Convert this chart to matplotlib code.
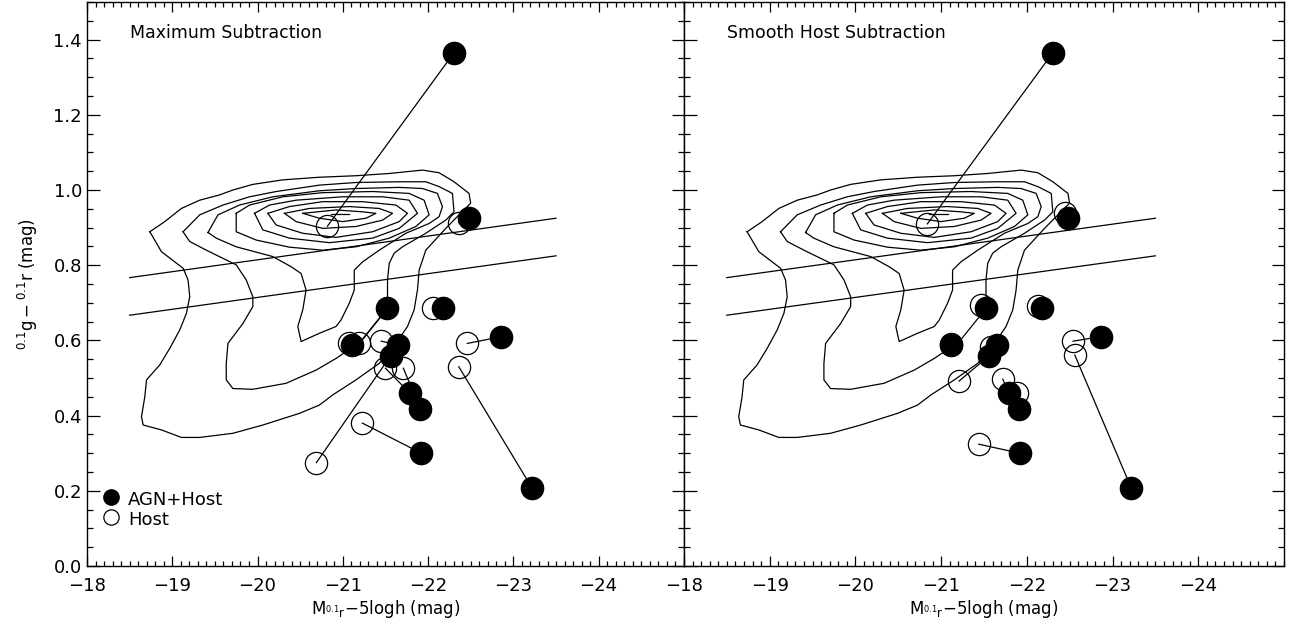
import matplotlib
matplotlib.use('Agg')
import matplotlib.pyplot as plt
from matplotlib.ticker import MultipleLocator

# AGN+Host colours / magnitudes (same in both panels)
agn_mag = [-22.30, -22.48, -21.52, -22.18, -21.11, -21.65, -21.56, -22.86, -21.79, -21.91, -21.92, -23.22]
agn_col = [1.364, 0.925, 0.685, 0.685, 0.588, 0.588, 0.559, 0.610, 0.459, 0.417, 0.300, 0.207]

# host after maximum subtraction
max_mag = [-20.82, -22.36, -21.19, -22.06, -21.07, -21.45, -20.69, -22.46, -21.50, -21.71, -21.23, -22.36]
max_col = [0.904, 0.913, 0.592, 0.685, 0.592, 0.598, 0.275, 0.592, 0.526, 0.526, 0.380, 0.530]

# host after smooth host subtraction
smooth_mag = [-20.84, -22.45, -21.47, -22.13, -21.11, -21.58, -21.21, -22.54, -21.72, -21.88, -21.44, -22.56]
smooth_col = [0.910, 0.938, 0.694, 0.691, 0.590, 0.583, 0.492, 0.598, 0.497, 0.459, 0.324, 0.561]

# red sequence cut lines
cut_mag = [-18.5, -23.5]
cut_upper = [0.767, 0.925]
cut_lower = [0.667, 0.825]

# galaxy density contours, outer to inner
contours = [
    ([-18.737, -18.912, -19.107, -19.322, -19.555, -19.711, -19.945, -20.296, -20.725, -21.154, -21.544, -21.934,
      -22.129, -22.304, -22.480, -22.499, -22.363, -22.207, -21.973, -21.895, -21.875, -21.836, -21.758, -21.622,
      -21.427, -21.154, -20.881, -20.725, -20.491, -20.062, -19.711, -19.322, -19.107, -18.873, -18.659, -18.639,
      -18.678, -18.698, -18.854, -18.971, -19.088, -19.166, -19.205, -19.185, -19.127, -18.873, -18.737],
     [0.889, 0.916, 0.951, 0.973, 0.987, 1.000, 1.015, 1.027, 1.034, 1.038, 1.044, 1.053,
      1.046, 1.022, 0.991, 0.965, 0.934, 0.898, 0.840, 0.787, 0.734, 0.681, 0.637, 0.592,
      0.539, 0.495, 0.455, 0.428, 0.406, 0.375, 0.353, 0.342, 0.342, 0.362, 0.375, 0.397,
      0.450, 0.495, 0.535, 0.579, 0.628, 0.672, 0.716, 0.761, 0.792, 0.836, 0.889]),
    ([-19.127, -19.322, -19.594, -19.906, -20.218, -20.725, -21.154, -21.661, -21.973, -22.129, -22.285, -22.304,
      -22.207, -21.973, -21.700, -21.602, -21.544, -21.524, -21.524, -21.213, -20.920, -20.686, -20.335, -19.945,
      -19.711, -19.633, -19.633, -19.653, -19.828, -19.945, -19.945, -19.867, -19.750, -19.400, -19.205, -19.127],
     [0.889, 0.934, 0.960, 0.982, 0.996, 1.013, 1.020, 1.022, 1.022, 1.009, 0.991, 0.942,
      0.920, 0.885, 0.849, 0.832, 0.805, 0.761, 0.685, 0.597, 0.552, 0.521, 0.486, 0.470,
      0.472, 0.495, 0.539, 0.592, 0.645, 0.690, 0.716, 0.761, 0.801, 0.840, 0.863, 0.889]),
    ([-19.419, -19.536, -19.789, -20.179, -20.725, -21.154, -21.661, -21.934, -22.109, -22.168, -22.129, -22.012,
      -21.739, -21.427, -21.232, -21.134, -21.134, -21.076, -20.978, -20.920, -20.725, -20.511, -20.472, -20.530,
      -20.569, -20.511, -20.394, -20.179, -19.750, -19.516, -19.419],
     [0.887, 0.934, 0.960, 0.982, 0.998, 1.004, 1.007, 1.004, 0.991, 0.956, 0.929, 0.911,
      0.885, 0.840, 0.809, 0.787, 0.734, 0.699, 0.654, 0.637, 0.619, 0.597, 0.637, 0.681,
      0.734, 0.778, 0.796, 0.823, 0.849, 0.872, 0.887]),
    ([-19.750, -19.750, -19.984, -20.374, -20.764, -21.154, -21.544, -21.856, -22.012, -21.953, -21.778, -21.349,
      -20.764, -20.296, -19.906, -19.750],
     [0.938, 0.889, 0.867, 0.848, 0.840, 0.849, 0.872, 0.903, 0.934, 0.973, 0.991, 0.996,
      0.993, 0.982, 0.960, 0.938]),
    ([-19.965, -20.062, -20.374, -20.842, -21.349, -21.661, -21.875, -21.778, -21.466, -20.998, -20.452, -20.140, -19.965],
     [0.938, 0.894, 0.872, 0.860, 0.872, 0.898, 0.938, 0.973, 0.982, 0.982, 0.973, 0.960, 0.938]),
    ([-20.121, -20.218, -20.530, -20.920, -21.349, -21.661, -21.758, -21.622, -21.232, -20.764, -20.374, -20.121],
     [0.938, 0.907, 0.885, 0.874, 0.889, 0.916, 0.938, 0.960, 0.969, 0.969, 0.956, 0.938]),
    ([-20.316, -20.452, -20.764, -21.154, -21.466, -21.583, -21.427, -21.076, -20.608, -20.316],
     [0.938, 0.916, 0.898, 0.903, 0.920, 0.938, 0.951, 0.956, 0.951, 0.938]),
    ([-20.530, -20.725, -20.998, -21.271, -21.388, -21.232, -20.920, -20.530],
     [0.938, 0.925, 0.916, 0.925, 0.938, 0.942, 0.947, 0.938]),
    ([-20.862, -21.076], [0.936, 0.936]),
]

plt.rcParams['font.family'] = 'DejaVu Sans'
fig = plt.figure(figsize=(13.06, 6.32), dpi=100)
ax1 = fig.add_axes([0.0666, 0.1044, 0.4571, 0.8924])
ax2 = fig.add_axes([0.5237, 0.1044, 0.4594, 0.8924])


def draw_panel(ax, host_mag, host_col, title, show_ylabels, show_legend):
    for cx, cy in contours:
        ax.plot(cx, cy, color='black', lw=0.9)
    ax.plot(cut_mag, cut_upper, color='black', lw=0.9)
    ax.plot(cut_mag, cut_lower, color='black', lw=0.9)
    for i in range(len(agn_mag)):
        ax.plot([host_mag[i], agn_mag[i]], [host_col[i], agn_col[i]], color='black', lw=0.9)
    ax.plot(host_mag, host_col, 'o', ms=16, mfc='none', mec='black', mew=0.9, ls='none')
    ax.plot(agn_mag, agn_col, 'o', ms=16, mfc='black', mec='black', ls='none')

    ax.set_xlim(-18, -25)
    ax.set_ylim(0, 1.5)
    ax.xaxis.set_major_locator(MultipleLocator(1))
    ax.xaxis.set_minor_locator(MultipleLocator(0.1))
    ax.yaxis.set_major_locator(MultipleLocator(0.2))
    ax.yaxis.set_minor_locator(MultipleLocator(0.05))
    ax.tick_params(which='both', direction='in', top=True, right=True, labelsize=13, width=0.9)
    ax.tick_params(axis='x', which='major', length=7)
    ax.tick_params(axis='x', which='minor', length=3.5)
    ax.tick_params(axis='y', which='major', length=9)
    ax.tick_params(axis='y', which='minor', length=4.5)
    ax.tick_params(axis='x', pad=8)
    ax.set_xticks([-18, -19, -20, -21, -22, -23, -24])
    ax.set_xticklabels(['\u221218', '\u221219', '\u221220', '\u221221', '\u221222', '\u221223', '\u221224'])
    for s in ax.spines.values():
        s.set_linewidth(1.0)
    if show_ylabels:
        ax.set_yticks([0.0, 0.2, 0.4, 0.6, 0.8, 1.0, 1.2, 1.4])
        ax.set_yticklabels(['0.0', '0.2', '0.4', '0.6', '0.8', '1.0', '1.2', '1.4'])
        ax.set_ylabel(r'$^{0.1}\mathrm{g}-^{0.1}\mathrm{r}$ (mag)', fontsize=12, labelpad=10)
    else:
        ax.set_yticklabels([])
    ax.set_xlabel(r'M$_{^{0.1}\mathrm{r}}$$-$5logh (mag)', fontsize=12, labelpad=2)
    ax.text(0.072, 0.945, title, transform=ax.transAxes, fontsize=12.5, va='center', ha='left')

    if show_legend:
        ax.plot([0.041], [0.123], 'o', ms=11, mfc='black', mec='black', transform=ax.transAxes)
        ax.plot([0.041], [0.087], 'o', ms=11, mfc='none', mec='black', mew=0.9, transform=ax.transAxes)
        ax.text(0.069, 0.117, 'AGN+Host', transform=ax.transAxes, fontsize=13, va='center')
        ax.text(0.069, 0.082, 'Host', transform=ax.transAxes, fontsize=13, va='center')


draw_panel(ax1, max_mag, max_col, 'Maximum Subtraction', True, True)
draw_panel(ax2, smooth_mag, smooth_col, 'Smooth Host Subtraction', False, False)

plt.savefig('out.png', dpi=100)
